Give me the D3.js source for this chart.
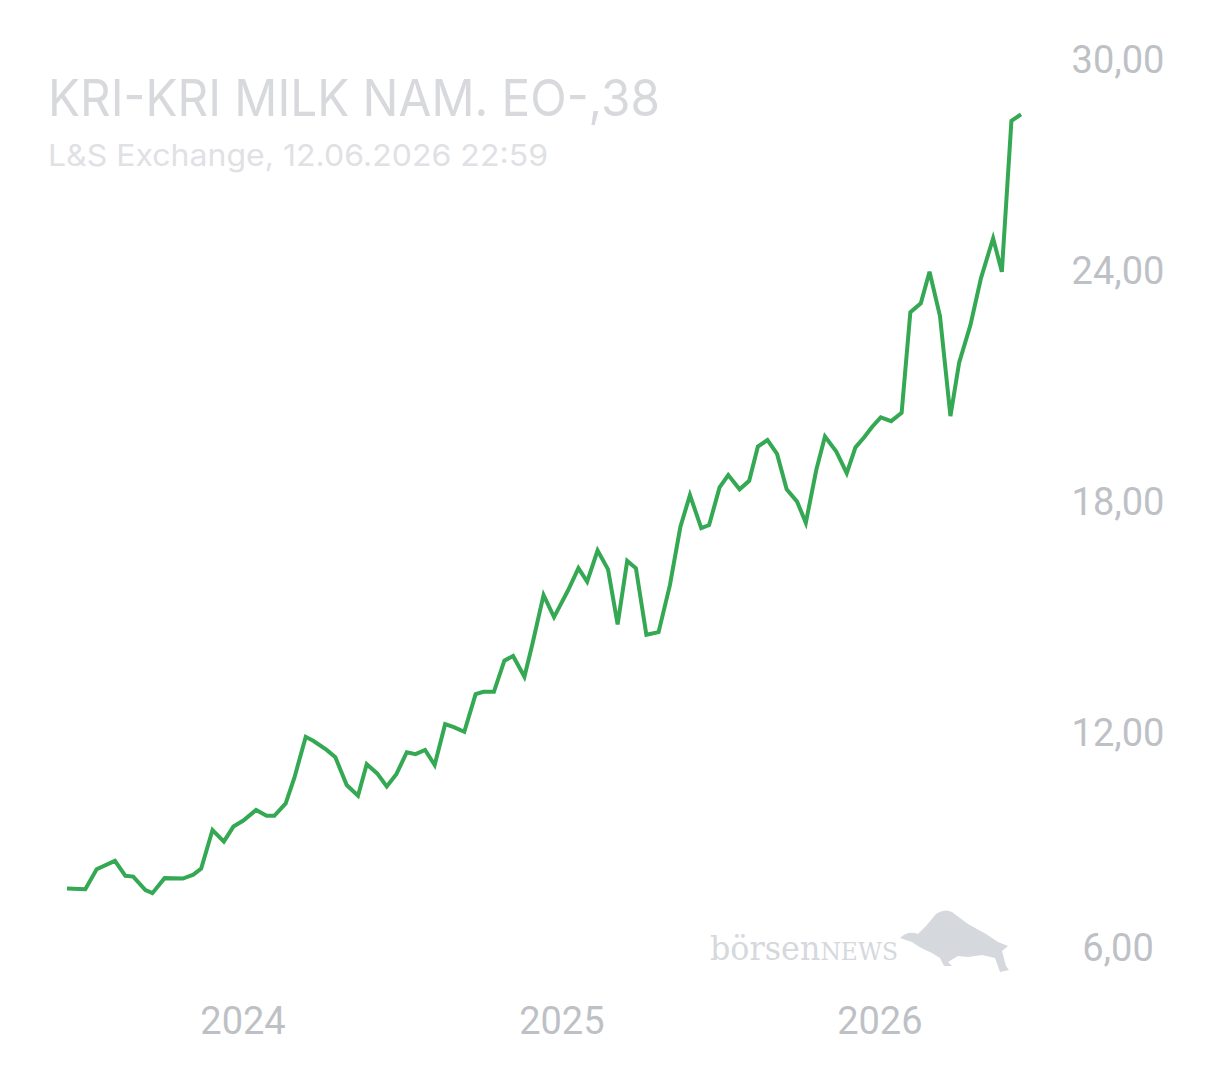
<!DOCTYPE html>
<html>
<head>
<meta charset="utf-8">
<script src="https://cdn.jsdelivr.net/npm/d3@7"></script>
<style>
  body { margin: 0; background: #fff; }
  svg text { font-family: Roboto, sans-serif; }
</style>
</head>
<body>
<script>
const width = 1220;
const height = 1080;

// price series
const dates = [
  "2023-06-13", "2023-07-04", "2023-07-17", "2023-08-07", "2023-08-19", "2023-08-28",
  "2023-09-11", "2023-09-19", "2023-10-03", "2023-10-24", "2023-11-05", "2023-11-14",
  "2023-11-27", "2023-12-10", "2023-12-21", "2024-01-01", "2024-01-16", "2024-01-28",
  "2024-02-06", "2024-02-19", "2024-02-29", "2024-03-13", "2024-03-22", "2024-04-06",
  "2024-04-16", "2024-04-29", "2024-05-12", "2024-05-22", "2024-06-03", "2024-06-14",
  "2024-06-25", "2024-07-07", "2024-07-17", "2024-07-28", "2024-08-08", "2024-08-20",
  "2024-08-30", "2024-09-11", "2024-09-24", "2024-10-03", "2024-10-15", "2024-10-27",
  "2024-11-06", "2024-11-19", "2024-11-28", "2024-12-11", "2024-12-23", "2025-01-08",
  "2025-01-20", "2025-01-30", "2025-02-11", "2025-02-23", "2025-03-06", "2025-03-17",
  "2025-03-27", "2025-04-08", "2025-04-22", "2025-05-05", "2025-05-17", "2025-05-28",
  "2025-06-10", "2025-06-19", "2025-07-01", "2025-07-11", "2025-07-24", "2025-08-04",
  "2025-08-14", "2025-08-25", "2025-09-05", "2025-09-16", "2025-09-28", "2025-10-08",
  "2025-10-20", "2025-10-30", "2025-11-12", "2025-11-24", "2025-12-04", "2025-12-14",
  "2025-12-23", "2026-01-02", "2026-01-14", "2026-01-26", "2026-02-05", "2026-02-17",
  "2026-02-27", "2026-03-11", "2026-03-23", "2026-04-02", "2026-04-15", "2026-04-27",
  "2026-05-11", "2026-05-21", "2026-06-01", "2026-06-12"
];
const prices = [
  7.96, 7.94, 8.46, 8.68, 8.29, 8.27,
  7.92, 7.84, 8.23, 8.22, 8.32, 8.48,
  9.48, 9.18, 9.57, 9.72, 10.00, 9.85,
  9.85, 10.17, 10.84, 11.90, 11.79, 11.56,
  11.37, 10.65, 10.37, 11.19, 10.95, 10.61,
  10.93, 11.50, 11.45, 11.56, 11.17, 12.23,
  12.15, 12.03, 13.01, 13.07, 13.07, 13.88,
  14.00, 13.46, 14.29, 15.58, 15.01, 15.70,
  16.28, 15.93, 16.74, 16.25, 14.82, 16.47,
  16.28, 14.55, 14.62, 15.84, 17.35, 18.18,
  17.32, 17.40, 18.38, 18.70, 18.33, 18.55,
  19.44, 19.61, 19.25, 18.33, 18.01, 17.46,
  18.83, 19.70, 19.31, 18.75, 19.42, 19.68,
  19.95, 20.20, 20.10, 20.32, 22.93, 23.16,
  23.98, 22.83, 20.23, 21.62, 22.60, 23.81,
  24.85, 23.98, 27.90, 28.07
];

const yTicks = [6, 12, 18, 24, 30];
const xTicks = ["2024-01-01", "2025-01-01", "2026-01-01"];

const title = "KRI-KRI MILK NAM. EO-,38";
const subtitle = "L&S Exchange, 12.06.2026 22:59";

const parse = d3.timeParse("%Y-%m-%d");
const data = dates.map((d, i) => ({ date: parse(d), value: prices[i] }));

const svg = d3.select("body")
    .append("svg")
    .attr("width", width)
    .attr("height", height);

const x = d3.scaleTime()
    .domain([parse("2024-01-01"), parse("2026-06-12")])
    .range([243, 1021]);

const y = d3.scaleLinear()
    .domain([6, 30])
    .range([964, 40]);

// title block
svg.append("text")
    .attr("x", 48)
    .attr("y", 116)
    .style("font-family", "Inter, sans-serif")
    .style("font-size", "51px")
    .style("fill", "#d7d9dd")
    .attr("textLength", 612)
    .attr("lengthAdjust", "spacingAndGlyphs")
    .text(title);

svg.append("text")
    .attr("x", 48)
    .attr("y", 166)
    .style("font-family", "Inter, sans-serif")
    .style("font-size", "30px")
    .style("fill", "#dfe1e4")
    .attr("textLength", 500)
    .attr("lengthAdjust", "spacingAndGlyphs")
    .text(subtitle);

// watermark
const mark = svg.append("g").style("fill", "#d5d8dc");
mark.append("text")
    .attr("x", 710)
    .attr("y", 960)
    .style("font-family", "'DejaVu Serif', 'Liberation Serif', serif")
    .style("font-size", "34px")
    .style("font-weight", "300")
    .attr("textLength", 188)
    .attr("lengthAdjust", "spacingAndGlyphs")
    .html("börsen<tspan style='font-size:25px'>NEWS</tspan>");
mark.append("path")
    .attr("d", "M900,938 Q908,930 918,934 L926,926 L936,914 Q944,908 952,912 " +
               "L968,924 L986,934 L998,942 L1008,946 L1002,951 L1006,966 L1009,970 L1000,972 " +
               "L995,958 L982,955 L968,957 L958,956 L948,962 L952,966 L944,966 L940,958 " +
               "L932,953 Q920,948 912,942 Z");

// y labels, kept inside the plot at the top and bottom
svg.append("g")
    .selectAll("text")
    .data(yTicks)
    .enter()
    .append("text")
    .attr("x", 1118)
    .attr("y", d => Math.min(948, Math.max(60, y(d))))
    .attr("text-anchor", "middle")
    .attr("dominant-baseline", "central")
    .style("font-size", "38px")
    .style("fill", "#bdc1c6")
    .text(d => d3.format(".2f")(d).replace(".", ","));

// x labels
svg.append("g")
    .selectAll("text")
    .data(xTicks)
    .enter()
    .append("text")
    .attr("x", d => x(parse(d)))
    .attr("y", 1021)
    .attr("text-anchor", "middle")
    .attr("dominant-baseline", "central")
    .style("font-size", "38px")
    .style("fill", "#bdc1c6")
    .text(d => d.slice(0, 4));

const line = d3.line()
    .x(d => x(d.date))
    .y(d => y(d.value));

svg.append("path")
    .datum(data)
    .attr("d", line)
    .style("fill", "none")
    .style("stroke", "#34a853")
    .style("stroke-width", 4)
    .style("stroke-linejoin", "miter");
</script>
</body>
</html>
